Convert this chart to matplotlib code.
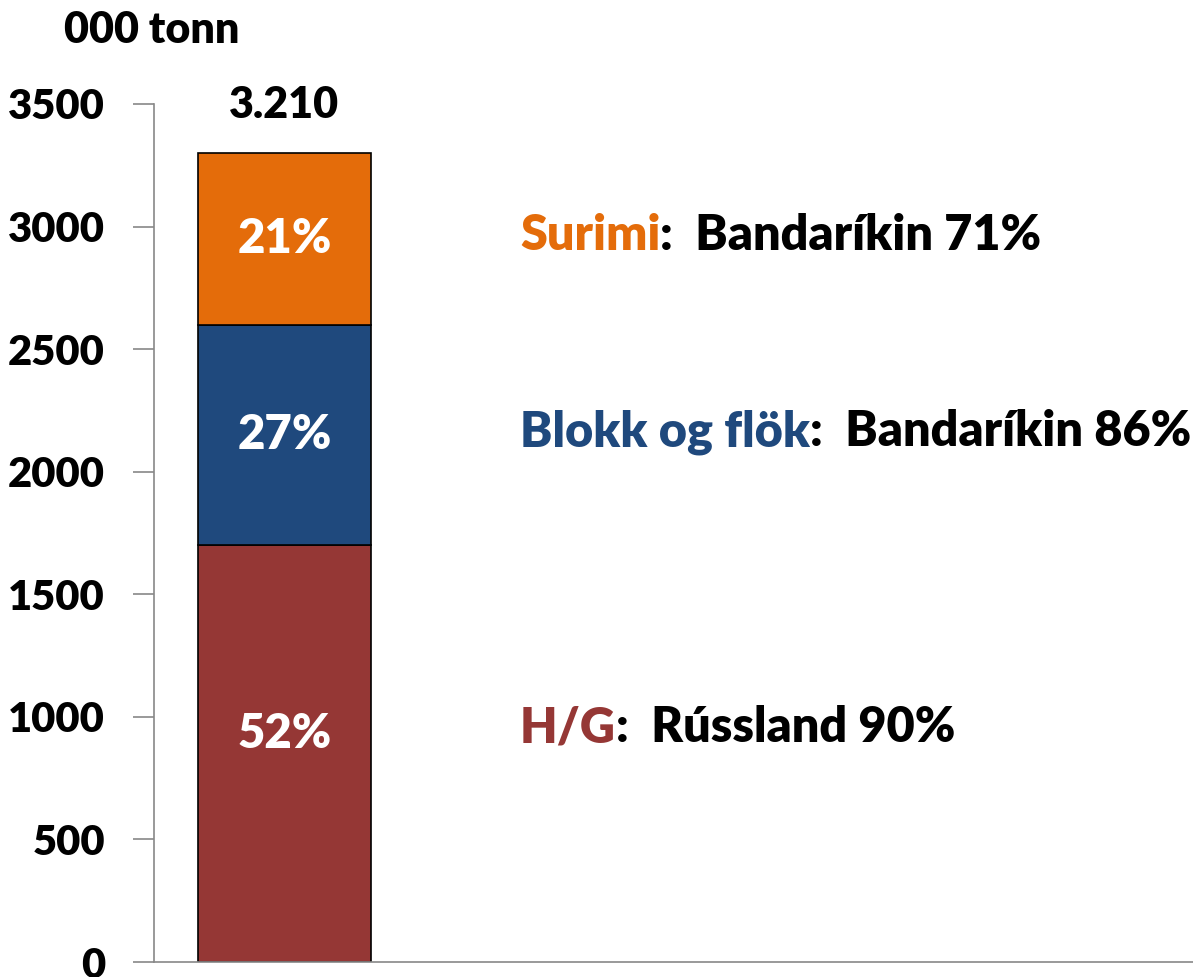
import matplotlib
matplotlib.use("Agg")
from matplotlib import pyplot as plt

# data (000 tonn)
segments = ["H/G", "Blokk og flök", "Surimi"]
values = [1700, 900, 700]
pct_labels = ["52%", "27%", "21%"]
markets = ["Rússland 90%", "Bandaríkin 86%", "Bandaríkin 71%"]
colors = ["#953735", "#1F497D", "#E46C0A"]
total_label = "3.210"
yticks = [0, 500, 1000, 1500, 2000, 2500, 3000, 3500]

plt.rcParams['font.family'] = ['Lato', 'DejaVu Sans']
plt.rcParams['font.weight'] = 'bold'

fig = plt.figure(figsize=(11.93, 9.77), dpi=100)
ax = fig.add_axes([153.5 / 1193, 15 / 977, 1 - 153.5 / 1193, (962 - 104) / 977])

label_shift = [14, 0, 0]  # points, label nudges as in the original
bottom = 0
for v, c, p, sh in zip(values, colors, pct_labels, label_shift):
    ax.bar(0, v, width=1, bottom=bottom, color=c, edgecolor="black", linewidth=1.2)
    ax.annotate(p, xy=(0, bottom + v / 2), xytext=(0, sh), textcoords="offset points",
                color="white", fontsize=34, fontweight="heavy",
                ha="center", va="center")
    bottom += v

ax.set_xlim(-0.753, 5.224)
ax.set_ylim(0, 3500)
ax.set_yticks(yticks)
ax.set_yticklabels([str(t) for t in yticks], fontsize=30, fontweight="heavy")
ax.set_xticks([])
ax.tick_params(axis="y", length=15, width=1.2, color="#888888", pad=20)
for s in ["top", "right"]:
    ax.spines[s].set_visible(False)
for s in ["left", "bottom"]:
    ax.spines[s].set_color("#888888")
    ax.spines[s].set_linewidth(1.2)

fig.text(284 / 1193, 1 - 105 / 977, total_label, fontsize=31, fontweight="heavy",
         ha="center", va="center")
fig.text(152 / 1193, 1 - 30 / 977, "000 tonn", fontsize=31, fontweight="heavy",
         ha="center", va="center")

ypos = [728, 432, 235]
for name, mk, c, yp in zip(segments, markets, colors, ypos):
    t = fig.text(520 / 1193, 1 - yp / 977, name, color=c, fontsize=35,
                 fontweight="heavy", ha="left", va="center")
    ax.annotate(":  " + mk, xy=(1, 0.5), xycoords=t, ha="left", va="center",
                fontsize=35, fontweight="heavy", color="black")

fig.savefig("out.png", dpi=100)
